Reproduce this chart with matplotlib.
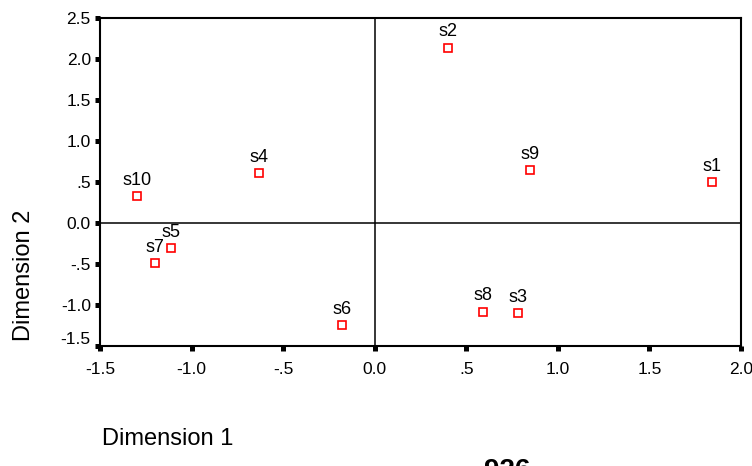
import matplotlib.pyplot as plt
from matplotlib.transforms import ScaledTranslation

plt.rcParams['font.family'] = ['Liberation Sans', 'DejaVu Sans']

# 刺激点の座標
labels = ['s1', 's2', 's3', 's4', 's5', 's6', 's7', 's8', 's9', 's10']
dim1 = [1.84, 0.40, 0.78, -0.63, -1.11, -0.18, -1.20, 0.59, 0.85, -1.30]
dim2 = [0.50, 2.14, -1.10, 0.61, -0.31, -1.24, -0.49, -1.08, 0.65, 0.33]

xticks = [-1.5, -1.0, -0.5, 0.0, 0.5, 1.0, 1.5, 2.0]
xticklabels = ['-1.5', '-1.0', '-.5', '0.0', '.5', '1.0', '1.5', '2.0']
yticks = [-1.5, -1.0, -0.5, 0.0, 0.5, 1.0, 1.5, 2.0, 2.5]
yticklabels = ['-1.5', '-1.0', '-.5', '0.0', '.5', '1.0', '1.5', '2.0', '2.5']

fig = plt.figure(figsize=(7.52, 4.66), dpi=100)
ax = fig.add_axes([100 / 752, 1 - 346 / 466, 641 / 752, 328 / 466])

ax.axhline(0, color='black', lw=1.1, zorder=1)
ax.axvline(0, color='black', lw=1.1, zorder=1)

ax.plot(dim1, dim2, 's', ms=5.5, mfc='white', mec='red', mew=1.2,
        linestyle='none', zorder=3)
for lab, x, y in zip(labels, dim1, dim2):
    ax.annotate(lab, (x, y), xytext=(0, 8), textcoords='offset points',
                ha='center', va='baseline', fontsize=13)

ax.set_xlim(-1.5, 2.0)
ax.set_ylim(-1.5, 2.5)
ax.set_xticks(xticks)
ax.set_xticklabels(xticklabels)
ax.set_yticks(yticks)
ax.set_yticklabels(yticklabels)
ax.tick_params(axis='both', direction='out', length=3.6, width=3.6,
               labelsize=12.5, color='black')
ax.tick_params(axis='x', pad=8)
ax.tick_params(axis='y', pad=3)

for sp in ax.spines.values():
    sp.set_linewidth(1.5)

# 一番下のyラベルだけ少し上にずらす
lbl = ax.get_yticklabels()[0]
lbl.set_transform(lbl.get_transform() + ScaledTranslation(0, 6 / 72, fig.dpi_scale_trans))

fig.text(24 / 752, 1 - 275 / 466, 'Dimension 2', rotation=90,
         ha='center', va='center', fontsize=17)
fig.text(102 / 752, 1 - 445 / 466, 'Dimension 1',
         ha='left', va='baseline', fontsize=17)
# 元画像でも下端で切れている
fig.text(507 / 752, 1 - 458 / 466, '926', ha='center', va='top',
         fontsize=20, fontweight='bold')

fig.savefig('out.png', dpi=100)
